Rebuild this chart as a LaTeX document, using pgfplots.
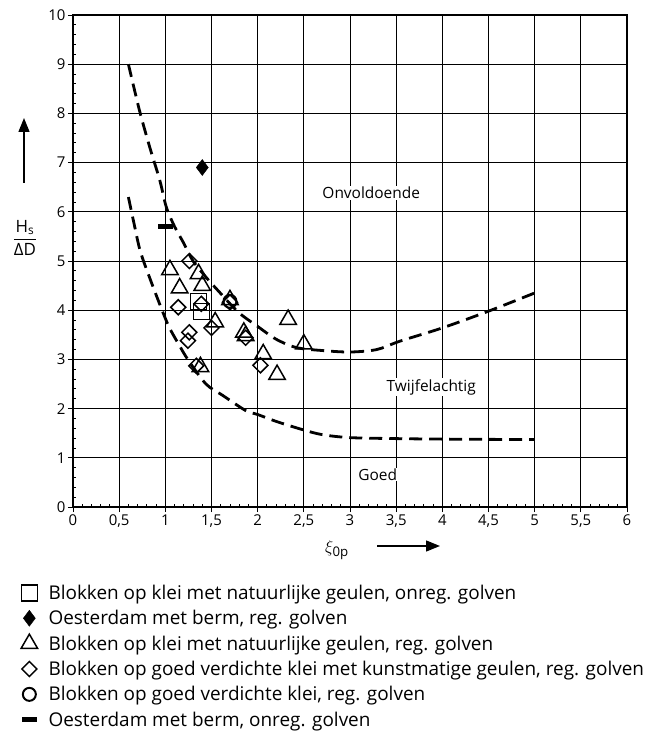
\documentclass[border=0pt]{standalone}
\usepackage{fontspec}
\setmainfont{Open Sans}
\usepackage{amsmath}
\usepackage{pgfplots}
\pgfplotsset{compat=1.18}
\usetikzlibrary{arrows.meta}
\begin{document}
\begin{tikzpicture}[x=1bp,y=1bp]
\useasboundingbox (-73,-234) rectangle (575,507);
\begin{axis}[
  at={(0,0)}, anchor=south west,
  scale only axis, width=554bp, height=492bp,
  xmin=0, xmax=6, ymin=0, ymax=10,
  xtick={0,0.5,...,6}, ytick={0,1,...,10},
  minor x tick num=4, minor y tick num=4,
  tick pos=left, tick align=inside,
  major tick length=4bp, minor tick length=3bp,
  grid=major,
  major grid style={black, line width=0.8bp},
  axis line style={black, line width=1.4bp},
  tick style={black, line width=0.9bp},
  extra x ticks={0,0.5,...,6}, extra x tick labels={},
  extra x tick style={tick align=outside, major tick length=5bp, grid=none},
  extra y ticks={0,1,...,10}, extra y tick labels={},
  extra y tick style={tick align=outside, major tick length=5bp, grid=none},
  ticklabel style={font=\fontsize{15}{17}\selectfont},
  xticklabel style={/pgf/number format/.cd, fixed, use comma, assume math mode=true, /tikz/.cd, yshift=-4bp},
  yticklabel style={/pgf/number format/.cd, fixed, assume math mode=true, /tikz/.cd, xshift=-4bp},
  legend style={draw=none, fill=none, at={(-0.094,-0.154)}, anchor=north west,
    font=\fontsize{19}{21}\selectfont, row sep=5.5bp, column sep=9bp, inner sep=0pt},
  legend cell align=left,
]
% dashed boundary curves
\addplot[forget plot, smooth, black, line width=2.8bp, dash pattern=on 13bp off 7bp] coordinates {
 (0.6,9.0) (0.72,8.06) (0.83,7.32) (0.94,6.64) (1.01,6.1) (1.1,5.7) (1.2,5.36) (1.3,5.0)
 (1.45,4.65) (1.57,4.40) (1.79,3.96) (2.0,3.67) (2.2,3.41) (2.42,3.24) (2.7,3.18) (3.0,3.15)
 (3.29,3.2) (3.54,3.37) (4.0,3.64) (4.5,3.98) (5.0,4.35)};
\addplot[forget plot, smooth, black, line width=2.8bp, dash pattern=on 13bp off 7bp] coordinates {
 (0.6,6.3) (0.66,5.77) (0.73,5.19) (0.84,4.61) (0.95,4.07) (1.04,3.66) (1.15,3.29) (1.25,2.98)
 (1.44,2.5) (1.62,2.27) (1.87,1.96) (2.0,1.88) (2.2,1.74) (2.49,1.57) (2.7,1.47) (3.0,1.41)
 (3.5,1.39) (4.0,1.38) (5.0,1.37)};
% data
\addplot[only marks, mark=square, mark size=8bp, black, line width=1.5bp] coordinates {
 (1.36,4.18) (1.39,3.97)};
\addlegendentry{Blokken op klei met natuurlijke geulen, onreg. golven}
\addplot[only marks, mark=diamond*, mark size=8bp, black, mark options={fill=black}] coordinates {
 (1.40,6.90)};
\addlegendentry{Oesterdam met berm, reg. golven}
\addplot[only marks, mark=triangle, mark size=9.5bp, black, line width=1.5bp] coordinates {
 (1.05,4.82) (1.36,4.74) (1.155,4.45) (1.40,4.50) (1.70,4.21) (1.54,3.76) (1.85,3.55) (1.87,3.48)
 (2.33,3.81) (2.50,3.31) (2.06,3.11) (2.21,2.69) (1.38,2.85)};
\addlegendentry{Blokken op klei met natuurlijke geulen, reg. golven}
\addplot[only marks, mark=square, mark size=5.3bp, black, line width=1.5bp, mark options={rotate=45}] coordinates {
 (1.26,5.00) (1.14,4.06) (1.39,4.13) (1.70,4.16) (1.50,3.64) (1.26,3.55) (1.245,3.38)
 (1.87,3.44) (2.03,2.88) (1.335,2.87)};
\addlegendentry{Blokken op goed verdichte klei met kunstmatige geulen, reg. golven}
\addplot[only marks, mark=o, mark size=6.5bp, black, line width=2bp] coordinates {
 (1.70,4.18)};
\addlegendentry{Blokken op goed verdichte klei, reg. golven}
\addplot[only marks, mark=-, mark size=7.5bp, black, line width=5bp] coordinates {
 (1.0,5.71)};
\addlegendentry{Oesterdam met berm, onreg. golven}
% region labels
\node[font=\fontsize{15.5}{17}\selectfont, fill=white, inner sep=1bp] at (axis cs:3.23,6.38) {Onvoldoende};
\node[font=\fontsize{15.5}{17}\selectfont, fill=white, inner sep=1bp] at (axis cs:3.88,2.44) {Twijfelachtig};
\node[font=\fontsize{15.5}{17}\selectfont, fill=white, inner sep=1bp] at (axis cs:3.30,0.66) {Goed};
\end{axis}
% y label
\node[font=\fontsize{17}{19}\selectfont] at (-48,269) {$\dfrac{\text{H}_{\text{s}}}{\text{ΔD}}$};
\draw[line width=1.4bp, -{Triangle[length=14bp,width=11bp]}] (-49,324) -- (-49,389);
% x label
\node[font=\fontsize{19}{21}\selectfont] at (264,-43) {$\xi_{\text{0p}}$};
\draw[line width=1.4bp, -{Triangle[length=14bp,width=11bp]}] (304,-39) -- (367,-39);
\end{tikzpicture}
\end{document}
